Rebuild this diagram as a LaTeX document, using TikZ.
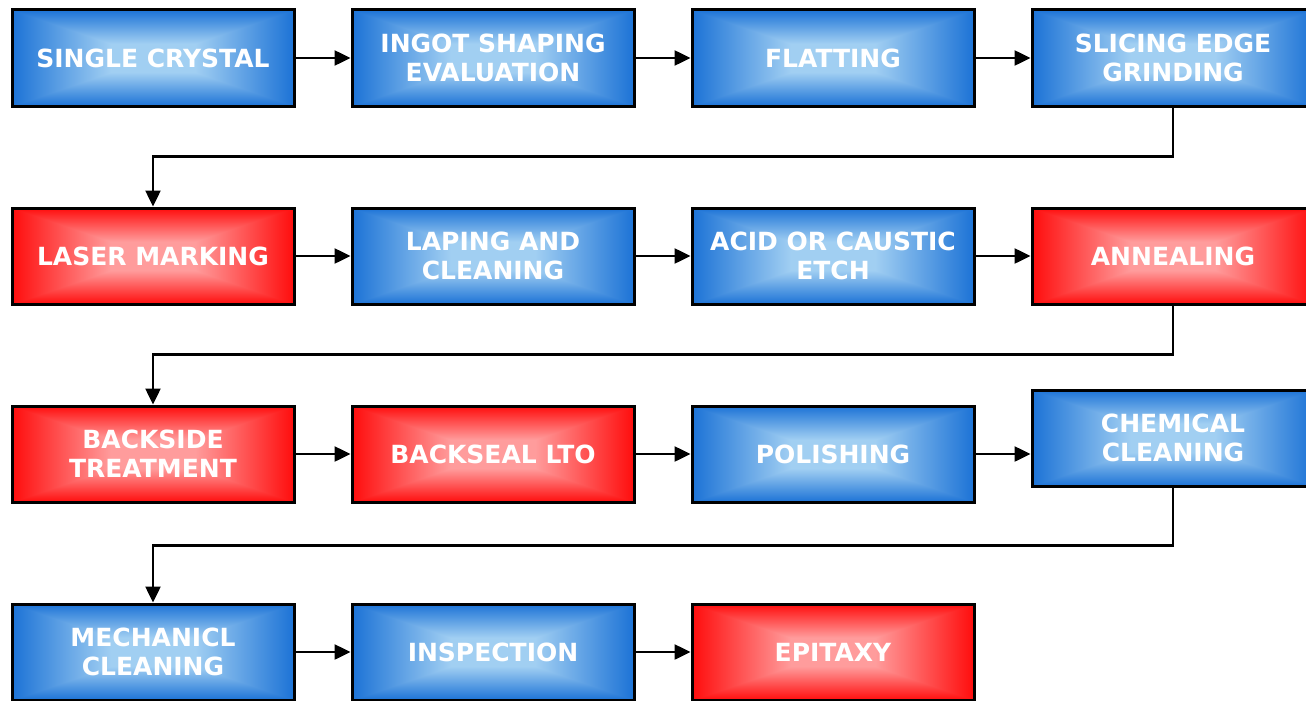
\documentclass[tikz,border=0pt]{standalone}
\usepackage{fontspec}
\setsansfont{DejaVu Sans}
\usetikzlibrary{arrows.meta}

\pgfdeclarefunctionalshading{blueglow}{\pgfpoint{-50bp}{-50bp}}{\pgfpoint{50bp}{50bp}}{}{
  abs exch abs 2 copy lt {exch} if pop 25 div
  1 exch sub 0.7 div dup 1 gt {pop 1} if
  dup dup 0.52 mul 0.11 add 3 1 roll 0.36 mul 0.45 add exch 0.11 mul 0.84 add}
\pgfdeclarefunctionalshading{redglow}{\pgfpoint{-50bp}{-50bp}}{\pgfpoint{50bp}{50bp}}{}{
  abs exch abs 2 copy lt {exch} if pop 25 div
  1 exch sub 0.7 div dup 1 gt {pop 1} if
  0.56 mul 0.05 add 1 exch dup}

\tikzset{
  stepbox/.style={draw=black, line width=3pt, minimum width=282pt, minimum height=96pt,
    inner sep=0pt, align=center, text=white, font=\sffamily\bfseries\fontsize{25}{29}\selectfont},
  stepblue/.style={stepbox, shading=blueglow},
  stepred/.style={stepbox, shading=redglow},
  flow/.style={line width=2.5pt, -{Triangle[length=16pt,width=15pt]}}
}

\begin{document}
\begin{tikzpicture}[x=1pt, y=-1pt]
  \useasboundingbox (0,0) rectangle (1306,701);
  \fill[white] (0,0) rectangle (1306,701);
  \clip (0,0) rectangle (1306,701);

  \node[stepblue] (crystal)  at (153,58)  {SINGLE CRYSTAL};
  \node[stepblue] (ingot)    at (493,58)  {INGOT SHAPING\\EVALUATION};
  \node[stepblue] (flat)     at (833,58)  {FLATTING};
  \node[stepblue] (slice)    at (1173,58) {SLICING EDGE\\GRINDING};

  \node[stepred]  (laser)    at (153,256)  {LASER MARKING};
  \node[stepblue] (lap)      at (493,256)  {LAPING AND\\CLEANING};
  \node[stepblue] (etch)     at (833,256)  {ACID OR CAUSTIC\\ETCH};
  \node[stepred]  (anneal)   at (1173,256) {ANNEALING};

  \node[stepred]  (backside) at (153,454)  {BACKSIDE\\TREATMENT};
  \node[stepred]  (backseal) at (493,454)  {BACKSEAL LTO};
  \node[stepblue] (polish)   at (833,454)  {POLISHING};
  \node[stepblue] (chemclean) at (1173,438) {CHEMICAL\\CLEANING};

  \node[stepblue] (mechclean) at (153,652) {MECHANICL\\CLEANING};
  \node[stepblue] (inspect)  at (493,652)  {INSPECTION};
  \node[stepred]  (epi)      at (833,652)  {EPITAXY};

  \draw[flow] (crystal) -- (ingot);
  \draw[flow] (ingot) -- (flat);
  \draw[flow] (flat) -- (slice);
  \draw[flow] (slice.south) -- ++(0,49) -| (laser.north);

  \draw[flow] (laser) -- (lap);
  \draw[flow] (lap) -- (etch);
  \draw[flow] (etch) -- (anneal);
  \draw[flow] (anneal.south) -- ++(0,49) -| (backside.north);

  \draw[flow] (backside) -- (backseal);
  \draw[flow] (backseal) -- (polish);
  \draw[flow] (polish) -- (polish -| chemclean.west);
  \draw[flow] (chemclean.south) -- ++(0,58) -| (mechclean.north);

  \draw[flow] (mechclean) -- (inspect);
  \draw[flow] (inspect) -- (epi);
\end{tikzpicture}
\end{document}
